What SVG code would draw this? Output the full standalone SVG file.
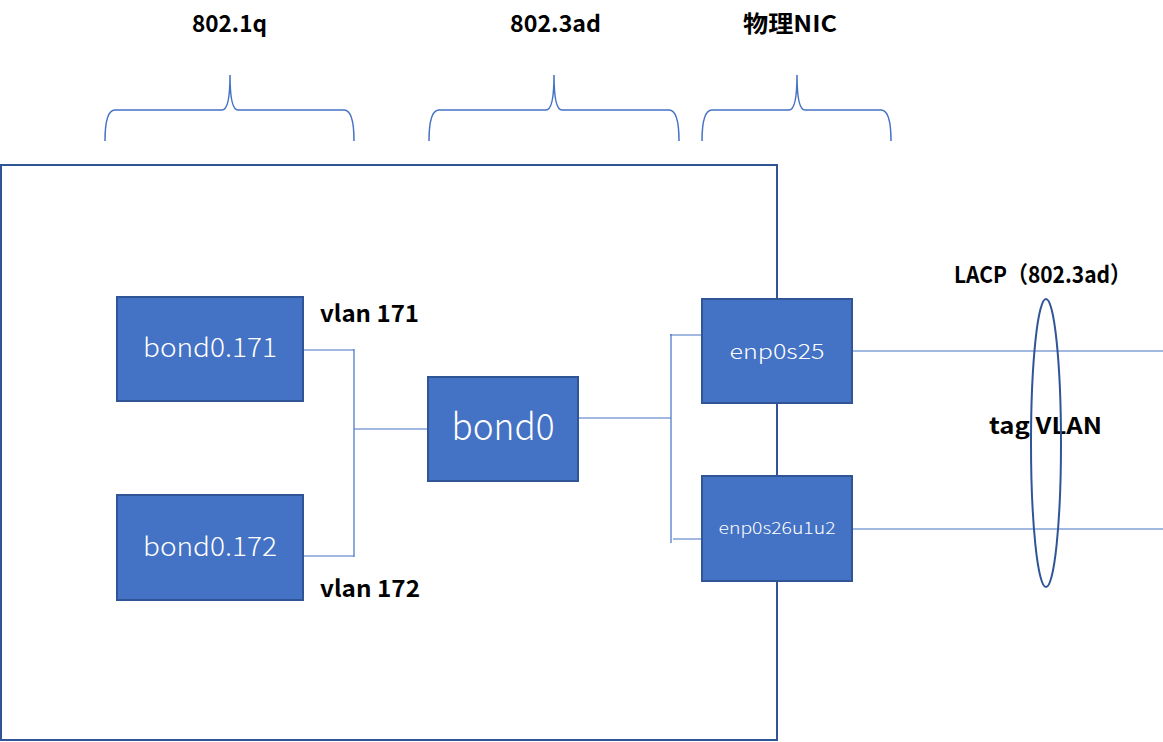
<svg xmlns="http://www.w3.org/2000/svg" width="1163" height="742" viewBox="0 0 1163 742">
<style>
.lbl{font-family:"Noto Sans CJK JP","Liberation Sans",sans-serif;font-weight:bold;font-size:23px;fill:#000}
.box{fill:#4472C4;stroke:#2F5597;stroke-width:2}
.nt{font-family:"Noto Sans CJK JP","Liberation Sans",sans-serif;font-weight:300;fill:#fff;text-anchor:middle}
.c{stroke:#4472C4;stroke-width:1.2;fill:none}
.br{stroke:#4472C4;stroke-width:1.5;fill:none}
</style>
<rect width="1163" height="742" fill="#fff"/>
<g id="host"><rect x="1" y="165" width="776" height="575" fill="none" stroke="#2F5597" stroke-width="2"/></g>
<g id="braces">
<path class="br" d="M105,141 Q105,110 115,110 L222,110 Q230,110 230,75 Q230,110 238,110 L344,110 Q354,110 354,141"/>
<path class="br" d="M429,141 Q429,110 439,110 L546,110 Q554,110 554,75 Q554,110 562,110 L669,110 Q679,110 679,141"/>
<path class="br" d="M702,141 Q702,110 712,110 L789,110 Q797,110 797,75 Q797,110 805,110 L881,110 Q891,110 891,141"/>
</g>
<g id="labels">
<text class="lbl" x="192" y="32" textLength="75" lengthAdjust="spacingAndGlyphs">802.1q</text>
<text class="lbl" x="510" y="32" textLength="91" lengthAdjust="spacingAndGlyphs">802.3ad</text>
<text class="lbl" x="743" y="32" textLength="94" lengthAdjust="spacingAndGlyphs">物理NIC</text>
<text class="lbl" x="320" y="322" textLength="99" lengthAdjust="spacingAndGlyphs">vlan 171</text>
<text class="lbl" x="320" y="597" textLength="100" lengthAdjust="spacingAndGlyphs">vlan 172</text>
<text class="lbl" x="954" y="283" textLength="177" lengthAdjust="spacingAndGlyphs">LACP（802.3ad）</text>
<text class="lbl" x="989" y="434" textLength="113" lengthAdjust="spacingAndGlyphs">tag VLAN</text>
</g>
<g id="connectors">
<path class="c" d="M303,350 H354 M354,349 V557 M303,556 H354 M354,429 H428"/>
<path class="c" d="M578,418 H671 M671,334 V543 M670,335 H702 M673,539 H702"/>
<path class="c" d="M852,351 H1163 M852,529 H1163"/>
</g>
<g id="bond0.171"><rect class="box" x="117" y="297" width="186" height="104"/><text class="nt" x="210" y="357" font-size="26" textLength="134" lengthAdjust="spacingAndGlyphs">bond0.171</text></g>
<g id="bond0.172"><rect class="box" x="117" y="495" width="186" height="105"/><text class="nt" x="210" y="556" font-size="26" textLength="134" lengthAdjust="spacingAndGlyphs">bond0.172</text></g>
<g id="bond0"><rect class="box" x="428" y="377" width="150" height="104"/><text class="nt" x="503" y="440" font-size="37" textLength="103" lengthAdjust="spacingAndGlyphs">bond0</text></g>
<g id="enp0s25"><rect class="box" x="702" y="299" width="150" height="104"/><text class="nt" x="777" y="359" font-size="21" textLength="95" lengthAdjust="spacingAndGlyphs">enp0s25</text></g>
<g id="enp0s26u1u2"><rect class="box" x="702" y="476" width="150" height="105"/><text class="nt" x="777" y="534" font-size="16" textLength="117" lengthAdjust="spacingAndGlyphs">enp0s26u1u2</text></g>
<g id="lacp"><ellipse cx="1046" cy="443" rx="15" ry="144" fill="none" stroke="#2F5597" stroke-width="2"/></g>
</svg>
